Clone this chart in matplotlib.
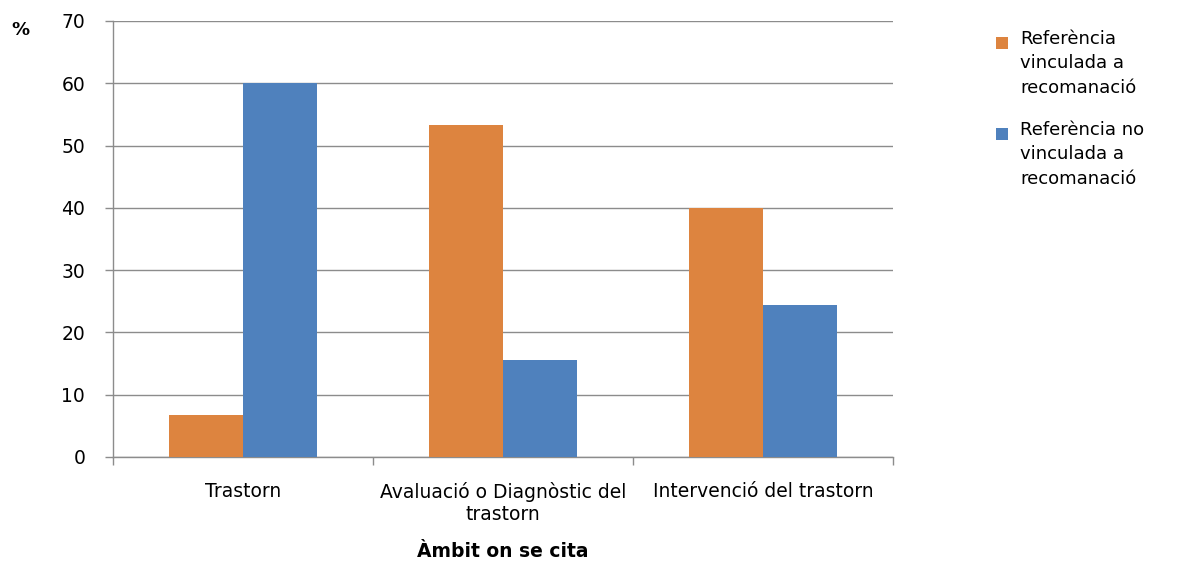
import matplotlib
matplotlib.use("Agg")
import matplotlib.pyplot as plt
import numpy as np
from matplotlib.patches import Rectangle

categories = ["Trastorn", "Avaluació o Diagnòstic del\ntrastorn", "Intervenció del trastorn"]
vinculada = [6.7, 53.3, 40.0]
no_vinculada = [60.0, 15.6, 24.4]
series_labels = ["Referència\nvinculada a\nrecomanació", "Referència no\nvinculada a\nrecomanació"]
yticks = [0, 10, 20, 30, 40, 50, 60, 70]

orange = "#DD843F"
blue = "#4F81BD"
grid_col = "#8C8C8C"

plt.rcParams["font.family"] = ["DejaVu Sans"]

W, H = 1180, 562
fig = plt.figure(figsize=(W / 100, H / 100), dpi=100)
ax = fig.add_axes([113 / W, 1 - 457 / H, 780 / W, 436 / H])

x = np.arange(len(categories))
w = 0.285
ax.bar(x - w / 2, vinculada, width=w, color=orange, zorder=3)
ax.bar(x + w / 2, no_vinculada, width=w, color=blue, zorder=3)

ax.set_xlim(-0.5, len(categories) - 0.5)
ax.set_ylim(0, 70)
ax.set_yticks(yticks)
ax.set_yticklabels([str(t) for t in yticks], fontsize=13.5)
ax.yaxis.grid(True, color=grid_col, linewidth=1.0, zorder=0)
ax.set_axisbelow(True)

# category labels centred, tick marks on category boundaries
ax.set_xticks(x)
ax.set_xticklabels(categories, fontsize=13.5, linespacing=1.2)
ax.tick_params(axis="x", length=0, pad=18)
ax.set_xticks(np.arange(-0.5, len(categories)), minor=True)
ax.tick_params(axis="x", which="minor", length=6, color=grid_col, width=1.0)
ax.tick_params(axis="y", length=6, color=grid_col, width=1.0, pad=14)

for side in ["top", "right"]:
    ax.spines[side].set_visible(False)
for side in ["left", "bottom"]:
    ax.spines[side].set_color(grid_col)
    ax.spines[side].set_linewidth(1.0)

ax.set_xlabel("Àmbit on se cita", fontsize=13.5, fontweight="bold", labelpad=13)
fig.text(20 / W, 1 - 30 / H, "%", fontsize=13, fontweight="bold", ha="center", va="center")

# legend: square marker aligned with the first line of each entry
legend_tops = [30, 121]
for color, label, top in zip([orange, blue], series_labels, legend_tops):
    fig.patches.append(Rectangle((996 / W, 1 - (top + 19) / H), 12 / W, 12 / H,
                                 transform=fig.transFigure, facecolor=color, edgecolor="none"))
    fig.text(1020 / W, 1 - top / H, label, fontsize=13, ha="left", va="top", linespacing=1.45)

fig.savefig("out.png", dpi=100)
